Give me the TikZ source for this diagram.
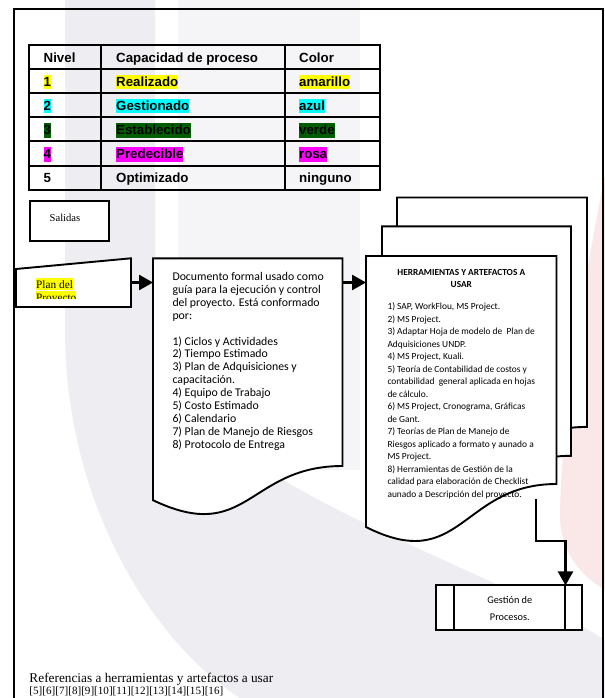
\documentclass[tikz,border=0pt]{standalone}
\usepackage{fontspec}
\setmainfont{Liberation Serif}
\newfontfamily\arialfont{Liberation Sans}
\newfontfamily\calibrifont{Carlito}
\usetikzlibrary{arrows.meta}

\definecolor{hlyellow}{HTML}{FFFF00}
\definecolor{hlcyan}{HTML}{00FFFF}
\definecolor{hlgreen}{HTML}{005E00}
\definecolor{hlpink}{HTML}{FF00FF}
\definecolor{wmgrey}{HTML}{EDEDF2}
\definecolor{wmlight}{HTML}{F5F5F8}
\definecolor{wmpink}{HTML}{FAE7E7}

\begin{document}
\begin{tikzpicture}[x=1bp,y=-1bp,
  frameline/.style={line width=2bp},
  gridline/.style={line width=2bp},
  shapebox/.style={draw, line width=1.9bp, fill=white},
  flow/.style={line width=2.6bp, -{Triangle[length=14bp,width=15bp]}},
  cell/.style={anchor=base west, inner sep=0pt,
    font=\arialfont\bfseries\fontsize{13.3bp}{15bp}\selectfont},
  hlcell/.style={cell, fill=#1, text height=12bp, text depth=2.8bp},
  plantxt/.style={anchor=base west, inner sep=0pt, fill=hlyellow,
    text height=10bp, text depth=2.4bp, font=\fontsize{11.3bp}{13bp}\selectfont},
  bodytxt/.style={anchor=base west, inner sep=0pt},
]
\useasboundingbox (0,0) rectangle (605,698);
\fill[white] (0,0) rectangle (605,698);

% faint watermark in the page background
\fill[wmlight] (178,0) rectangle (360,470);
\fill[wmgrey] (65,0) -- (65,330) .. controls (65,500) and (150,640) .. (240,698)
  -- (605,698) -- (605,640) .. controls (480,560) and (155,470) .. (155,330)
  -- (155,0) -- cycle;
\fill[wmpink] (605,175) .. controls (588,260) and (560,420) .. (560,520)
  .. controls (563,560) and (588,580) .. (605,590) -- cycle;

% page frame
\draw[frameline] (14,700) -- (14,9) -- (602.5,9) -- (602.5,700);

% capability table
\draw[gridline] (29.3,45.3) rectangle (379.5,189.5);
\foreach \gx in {100.8,285.3} \draw[gridline] (\gx,45.3) -- (\gx,189.5);
\foreach \gy in {69.2,93.2,117.2,141.3,165.5} \draw[gridline] (29.3,\gy) -- (379.5,\gy);

\node[cell] (hNivel) at (43.5,62.3) {Nivel};
\node[cell] (hCap) at (116,62.3) {Capacidad de proceso};
\node[cell] (hColor) at (299,62.3) {Color};

\node[hlcell=hlyellow] (r1a) at (43.5,86.7) {1};
\node[hlcell=hlyellow] (r1b) at (116,86.7) {Realizado};
\node[hlcell=hlyellow] (r1c) at (299,86.7) {amarillo};

\node[hlcell=hlcyan] (r2a) at (43.5,110.7) {2};
\node[hlcell=hlcyan] (r2b) at (116,110.7) {Gestionado};
\node[hlcell=hlcyan] (r2c) at (299,110.7) {azul};

\node[hlcell=hlgreen] (r3a) at (43.5,134.7) {3};
\node[hlcell=hlgreen] (r3b) at (116,134.7) {Establecido};
\node[hlcell=hlgreen] (r3c) at (299,134.7) {verde};

\node[hlcell=hlpink] (r4a) at (43.5,158.8) {4};
\node[hlcell=hlpink] (r4b) at (116,158.8) {Predecible};
\node[hlcell=hlpink] (r4c) at (299,158.8) {rosa};

\node[cell] (r5a) at (43.5,182.5) {5};
\node[cell] (r5b) at (116,182.5) {Optimizado};
\node[cell] (r5c) at (299,182.5) {ninguno};

% outputs label box
\node[shapebox, minimum width=79bp, minimum height=40bp, inner sep=0pt]
  (salidas) at (69.5,221.3) {};
\node[inner sep=0pt, font=\fontsize{10.6bp}{12bp}\selectfont]
  (salidastxt) at (65,217.5) {Salidas};

% manual input: project plan
\draw[shapebox] (16,269) -- (131,258.3) -- (131,307) -- (16,307) -- cycle;
\coordinate (planE) at (131,282.5);
\begin{scope}
  \clip (16,250) rectangle (131,298);
  \node[plantxt] (plan1) at (36,288) {Plan del};
  \node[plantxt] (plan2) at (36,301) {Proyecto};
\end{scope}

% document: project plan description
\draw[shapebox] (153,258.3) -- (342.5,258.3) -- (342.5,466)
  .. controls (247.75,466) and (247.75,545.3) .. (153,500.2) -- cycle;
\coordinate (docAW) at (153,282.5);
\coordinate (docAE) at (342.5,282.5);
\node[bodytxt, font=\calibrifont\fontsize{11.8bp}{12.9bp}\selectfont]
  (docAtxt) at (172.3,280.5) {\begin{tabular}[t]{@{}l@{}}
  Documento formal usado como\\
  guía para la ejecución y control\\
  del proyecto. Está conformado\\
  por:\\
  \\
  1) Ciclos y Actividades\\
  2) Tiempo Estimado\\
  3) Plan de Adquisiciones y\\
  capacitación.\\
  4) Equipo de Trabajo\\
  5) Costo Estimado\\
  6) Calendario\\
  7) Plan de Manejo de Riesgos\\
  8) Protocolo de Entrega
  \end{tabular}};

% multi-document stack: tools and artefacts
\draw[shapebox] (397,197.5) -- (587,197.5) -- (587,426.9)
  .. controls (492,426.9) and (492,514.4) .. (397,464.6) -- cycle;
\draw[shapebox] (382,226.4) -- (571,226.4) -- (571,455.8)
  .. controls (476.5,455.8) and (476.5,543.3) .. (382,493.5) -- cycle;
\draw[shapebox] (366,256) -- (556.5,256) -- (556.5,484)
  .. controls (461.25,484) and (461.25,575) .. (366,527) -- cycle;
\coordinate (docBW) at (366,282.5);

\node[anchor=base, inner sep=0pt,
  font=\calibrifont\bfseries\fontsize{9.3bp}{11.3bp}\selectfont]
  (docBtitle) at (461.3,275.7) {\begin{tabular}[t]{@{}c@{}}
  HERRAMIENTAS Y ARTEFACTOS A\\ USAR\end{tabular}};
\node[bodytxt, font=\calibrifont\fontsize{9.4bp}{12.5bp}\selectfont]
  (docBtxt) at (387.3,309.5) {\begin{tabular}[t]{@{}l@{}}
  1) SAP, WorkFlou, MS Project.\\
  2) MS Project.\\
  3) Adaptar Hoja de modelo de~ Plan de\\
  Adquisiciones UNDP.\\
  4) MS Project, Kuali.\\
  5) Teoría de Contabilidad de costos y\\
  contabilidad~ general aplicada en hojas\\
  de cálculo.\\
  6) MS Project, Cronograma, Gráficas\\
  de Gant.\\
  7) Teorías de Plan de Manejo de\\
  Riesgos aplicado a formato y aunado a\\
  MS Project.\\
  8) Herramientas de Gestión de la\\
  calidad para elaboración de Checklist\\
  aunado a Descripción del proyecto.
  \end{tabular}};

% predefined process: process management
\node[shapebox, minimum width=146.3bp, minimum height=44.7bp, inner sep=0pt]
  (gest) at (509.2,607.7) {};
\draw[line width=1.9bp] (454,585.3) -- (454,630);
\draw[line width=1.9bp] (565,585.3) -- (565,630);
\node[anchor=base, inner sep=0pt,
  font=\calibrifont\fontsize{10.3bp}{16.7bp}\selectfont]
  (gesttxt) at (509.8,603.3) {\begin{tabular}[t]{@{}c@{}}
  Gestión de\\ Procesos.\end{tabular}};
\coordinate (c3start) at (536,499);
\coordinate (gestIn) at (565.5,585.4);

% connectors
\draw[flow] (planE) -- (docAW);
\draw[flow] (docAE) -- (docBW);
\draw[flow] (c3start) -- ++(0,42) -| (gestIn);

% references
\node[bodytxt, font=\fontsize{13.3bp}{15bp}\selectfont]
  (refs1) at (29.3,682.5) {Referencias a herramientas y artefactos a usar};
\node[bodytxt, font=\fontsize{11.1bp}{13bp}\selectfont]
  (refs2) at (29.3,694.5) {[5][6][7][8][9][10][11][12][13][14][15][16]};
\end{tikzpicture}
\end{document}
